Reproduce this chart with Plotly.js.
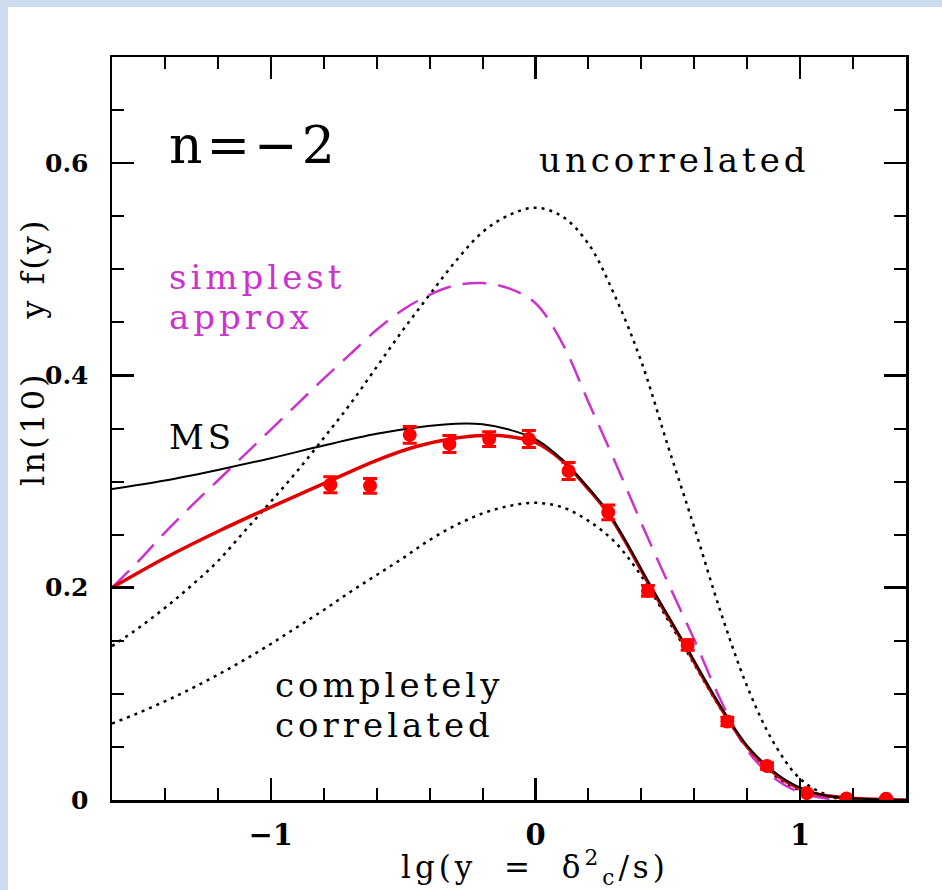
<!DOCTYPE html>
<html>
<head>
<meta charset="utf-8">
<script src="https://cdn.plot.ly/plotly-3.0.1.min.js"></script>
<style>
  html, body { margin: 0; padding: 0; background: #cddcee; width: 942px; height: 890px; overflow: hidden; }
  #chart { position: absolute; left: 8px; top: 7px; width: 934px; height: 883px; background: #ffffff; }
  .annotation-text { letter-spacing: 4px; }
  .annotation[data-index="7"] .annotation-text { letter-spacing: 3px; }
  .annotation[data-index="8"] .annotation-text { letter-spacing: 4px; }
</style>
</head>
<body>
<div id="chart"></div>
<script>
// ---- data ----
// measured points (lg y, ln(10) y f(y)) with error bars
const ptX   = [-0.775, -0.625, -0.475, -0.325, -0.175, -0.025, 0.125, 0.275, 0.425, 0.575, 0.725, 0.875, 1.025, 1.175, 1.325];
const ptY   = [0.297, 0.296, 0.344, 0.3355, 0.340, 0.340, 0.310, 0.271, 0.197, 0.146, 0.074, 0.032, 0.0065, 0.0015, 0.0012];
const ptErr = [0.0075, 0.007, 0.008, 0.008, 0.007, 0.008, 0.008, 0.007, 0.005, 0.005, 0.004, 0.003, 0.002, 0.001, 0.001];

// red fit curve
const fitX = [-1.6, -1.4, -1.2, -1.0, -0.8, -0.6, -0.45, -0.3, -0.2, -0.1, 0.0, 0.1, 0.2, 0.275, 0.35, 0.425, 0.5, 0.575, 0.65, 0.725, 0.8, 0.875, 0.95, 1.025, 1.1, 1.175, 1.25, 1.4];
const fitY = [0.200, 0.228, 0.253, 0.276, 0.298, 0.320, 0.333, 0.341, 0.3435, 0.3425, 0.337, 0.320, 0.293, 0.270, 0.239, 0.205, 0.173, 0.141, 0.108, 0.077, 0.050, 0.031, 0.017, 0.008, 0.004, 0.002, 0.001, 0.0];

// MS curve (black solid)
const msX = [-1.6, -1.4, -1.2, -1.0, -0.8, -0.6, -0.45, -0.3, -0.2, -0.1, 0.0, 0.1, 0.2, 0.275, 0.35, 0.425, 0.5, 0.575, 0.65, 0.725, 0.8, 0.875, 0.95, 1.025, 1.1, 1.175, 1.25, 1.4];
const msY = [0.293, 0.301, 0.311, 0.322, 0.334, 0.345, 0.351, 0.3545, 0.354, 0.349, 0.340, 0.321, 0.294, 0.271, 0.240, 0.206, 0.174, 0.142, 0.109, 0.078, 0.051, 0.032, 0.018, 0.009, 0.004, 0.002, 0.001, 0.0];

// simplest approx (magenta dashed)
const simX = [-1.6, -1.5, -1.4, -1.3, -1.2, -1.1, -1.0, -0.9, -0.8, -0.7, -0.6, -0.5, -0.4, -0.3, -0.2, -0.1, 0.0, 0.1, 0.2, 0.3, 0.4, 0.5, 0.6, 0.7, 0.8, 0.9, 1.0, 1.1, 1.2, 1.4];
const simY = [0.200, 0.225, 0.252, 0.277, 0.301, 0.325, 0.349, 0.373, 0.397, 0.420, 0.443, 0.462, 0.476, 0.485, 0.487, 0.482, 0.468, 0.431, 0.375, 0.319, 0.261, 0.205, 0.151, 0.094, 0.047, 0.021, 0.007, 0.0015, 0.0, 0.0];

// uncorrelated (upper dotted)
const uncX = [-1.6, -1.5, -1.4, -1.3, -1.2, -1.1, -1.0, -0.9, -0.8, -0.7, -0.6, -0.5, -0.4, -0.3, -0.2, -0.1, 0.0, 0.1, 0.2, 0.3, 0.4, 0.5, 0.6, 0.7, 0.8, 0.9, 1.0, 1.1, 1.2, 1.3, 1.4];
const uncY = [0.145, 0.162, 0.181, 0.202, 0.225, 0.253, 0.281, 0.310, 0.341, 0.373, 0.408, 0.443, 0.476, 0.508, 0.535, 0.551, 0.558, 0.550, 0.524, 0.475, 0.413, 0.334, 0.257, 0.177, 0.107, 0.054, 0.020, 0.005, 0.001, 0.0, 0.0];

// completely correlated (lower dotted)
const corX = [-1.6, -1.5, -1.4, -1.3, -1.2, -1.1, -1.0, -0.9, -0.8, -0.7, -0.6, -0.5, -0.4, -0.3, -0.2, -0.1, 0.0, 0.1, 0.2, 0.3, 0.4, 0.5, 0.6, 0.7, 0.8, 0.9, 1.0, 1.1, 1.2, 1.4];
const corY = [0.072, 0.082, 0.093, 0.105, 0.118, 0.132, 0.147, 0.163, 0.179, 0.196, 0.212, 0.228, 0.245, 0.259, 0.270, 0.277, 0.280, 0.276, 0.263, 0.243, 0.211, 0.170, 0.128, 0.086, 0.050, 0.024, 0.009, 0.003, 0.0005, 0.0];

const xTickVals = [-1, 0, 1];
const xTickText = ['\u22121', '0', '1'];
const yTickVals = [0, 0.2, 0.4, 0.6];
const yTickText = ['0', '0.2', '0.4', '0.6'];

const serif = 'DejaVu Serif, serif';
const black = '#000000';
const red = '#e00000';
const magenta = '#cc33cc';

const traces = [
  { x: uncX, y: uncY, mode: 'lines', line: { color: black, width: 2.5, dash: '3px,5px', shape: 'spline', smoothing: 1 }, hoverinfo: 'skip' },
  { x: corX, y: corY, mode: 'lines', line: { color: black, width: 2.5, dash: '3px,5px', shape: 'spline', smoothing: 1 }, hoverinfo: 'skip' },
  { x: simX, y: simY, mode: 'lines', line: { color: magenta, width: 2.5, dash: '24px,12px', shape: 'spline', smoothing: 1 }, hoverinfo: 'skip' },
  { x: fitX, y: fitY, mode: 'lines', line: { color: red, width: 3.5, shape: 'spline', smoothing: 1 }, hoverinfo: 'skip' },
  { x: msX, y: msY, mode: 'lines', line: { color: black, width: 2, shape: 'spline', smoothing: 1 }, hoverinfo: 'skip' },
  { x: ptX, y: ptY, mode: 'markers',
    marker: { color: '#ff0000', size: 14, symbol: 'circle' },
    error_y: { type: 'data', array: ptErr, visible: true, color: '#ff0000', thickness: 3, width: 7 },
    hoverinfo: 'skip' }
];

const annFont = { family: serif, size: 34, color: black };
const annotations = [
  { x: -1.392, y: 0.617, text: 'n=\u22122', font: { family: serif, size: 52, color: black } },
  { x: 0.006, y: 0.603, text: 'uncorrelated', font: annFont },
  { x: -1.392, y: 0.493, text: 'simplest', font: { family: serif, size: 34, color: magenta } },
  { x: -1.392, y: 0.455, text: 'approx', font: { family: serif, size: 34, color: magenta } },
  { x: -1.392, y: 0.342, text: 'MS', font: annFont },
  { x: -0.99, y: 0.108, text: 'completely', font: annFont },
  { x: -0.99, y: 0.071, text: 'correlated', font: annFont }
].map(a => Object.assign({ xref: 'x', yref: 'y', xanchor: 'left', yanchor: 'middle', showarrow: false }, a));

// y-axis title (rotated), left of the tick labels
annotations.push({
  xref: 'paper', yref: 'paper', x: -0.0995, y: 0.603, xanchor: 'center', yanchor: 'middle',
  textangle: -90, showarrow: false, text: 'ln(10)    y f(y)',
  font: { family: serif, size: 32, color: black }
});
// x-axis title, centred under lg y = 0 as in the reference
annotations.push({
  xref: 'x', yref: 'paper', x: 0.0, y: -0.091, xanchor: 'center', yanchor: 'middle',
  showarrow: false, borderpad: 0, text: 'lg(y  =  \u03b4<sup>2</sup><sub>c</sub>/s)',
  font: { family: serif, size: 31, color: black }
});

const layout = {
  width: 934, height: 883,
  margin: { l: 104, r: 36, t: 50, b: 90, pad: 0 },
  paper_bgcolor: '#ffffff', plot_bgcolor: '#ffffff',
  showlegend: false,
  xaxis: {
    range: [-1.6, 1.4], tickvals: xTickVals, ticktext: xTickText,
    ticks: 'inside', ticklen: 22, tickwidth: 2.5, tickcolor: black,
    minor: { dtick: 0.2, tick0: 0, ticks: 'inside', ticklen: 12, tickwidth: 2, tickcolor: black, showgrid: false },
    showline: true, linewidth: 2.5, linecolor: black, mirror: 'allticks',
    showgrid: false, zeroline: false,
    tickfont: { family: serif, size: 29, color: black, weight: 'bold' },
    ticklabelstandoff: 8
  },
  yaxis: {
    range: [0, 0.7], tickvals: yTickVals, ticktext: yTickText,
    ticks: 'inside', ticklen: 22, tickwidth: 2.5, tickcolor: black,
    minor: { dtick: 0.05, tick0: 0, ticks: 'inside', ticklen: 12, tickwidth: 2, tickcolor: black, showgrid: false },
    showline: true, linewidth: 2.5, linecolor: black, mirror: 'allticks',
    showgrid: false, zeroline: false,
    tickfont: { family: serif, size: 25, color: black, weight: 'bold' },
    ticklabelstandoff: 16
  },
  annotations: annotations
};

Plotly.newPlot('chart', traces, layout, { displayModeBar: false, staticPlot: true });
</script>
</body>
</html>
